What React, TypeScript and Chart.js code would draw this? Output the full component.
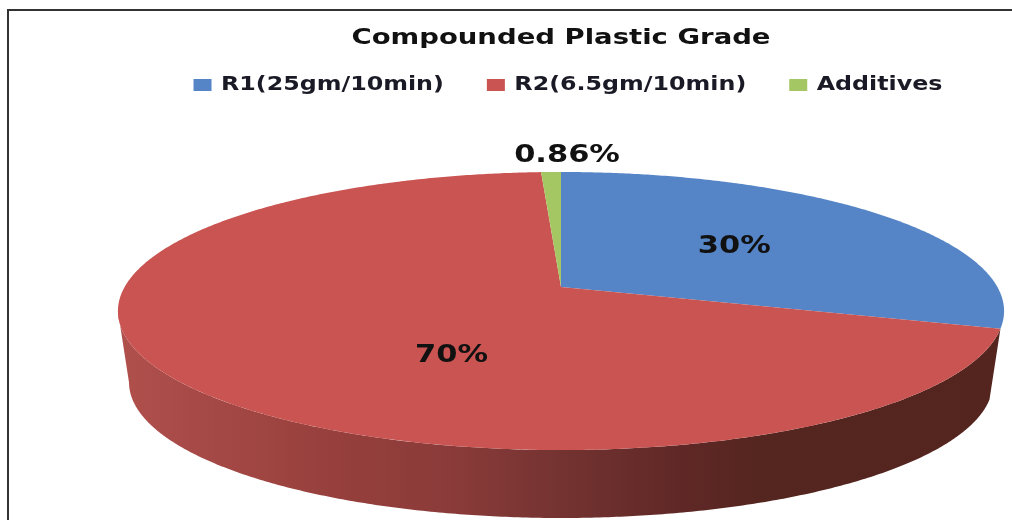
import React, { useEffect, useRef } from "react";
import { Chart, registerables } from "chart.js";

Chart.register(...registerables);

const titleText = "Compounded Plastic Grade";
const categories = ["R1(25gm/10min)", "R2(6.5gm/10min)", "Additives"];
const shares = [30, 70, 0.86];
const shareLabels = ["30%", "70%", "0.86%"];
const sliceColors = ["#5585c6", "#c95452", "#a5c763"];

// Perspective of the disc: apex position, half-axes and foreshortening factor.
const disc = { apexX: 561, apexY: 287, a: 436.4, b: 134.9, k: -0.1727 };
// The lower rim is the same disc, slightly shrunk and pushed down.
const rim = { shrink: 0.975, drop: 72 };
const rimStops: [number, string][] = [
  [0, "#b0504d"],
  [0.25, "#963f3c"],
  [0.38, "#8a3b39"],
  [0.5, "#743331"],
  [0.64, "#5f2826"],
  [0.73, "#55251f"],
  [1, "#54241f"],
];
// All text is set wide, as in a horizontally stretched figure.
const textStretch = 1.25;
const labelFont = 'bold 24.4px "DejaVu Sans"';
// Label nudges relative to the slice's projected mid-point.
const labelSpots = [
  { r: 0.56, dx: -5, dy: 0 },
  { r: 0.3, dx: 6, dy: 41 },
  { r: 1.0, dx: 16, dy: -16 },
];

// Chart.js arc angles start at -PI/2 for the top of the pie.
function project(angle: number, scale = 1, drop = 0): [number, number] {
  const u = Math.cos(angle);
  const v = Math.sin(angle);
  const den = 1 + disc.k * v;
  return [
    disc.apexX + (scale * disc.a * u) / den,
    disc.apexY + drop + (scale * disc.b * v) / den,
  ];
}

function traceArc(ctx: CanvasRenderingContext2D, from: number, to: number, scale = 1, drop = 0) {
  const steps = Math.max(4, Math.ceil(Math.abs(to - from) * 120));
  for (let i = 0; i <= steps; i++) {
    const [x, y] = project(from + ((to - from) * i) / steps, scale, drop);
    ctx.lineTo(x, y);
  }
}

// Widens every string the chart draws and measures on this context.
function stretchText(ctx: CanvasRenderingContext2D) {
  const fill = ctx.fillText.bind(ctx);
  const measure = ctx.measureText.bind(ctx);
  ctx.fillText = (text: string, x: number, y: number) => {
    ctx.save();
    ctx.translate(x, y);
    ctx.scale(textStretch, 1);
    fill(text, 0, 0);
    ctx.restore();
  };
  ctx.measureText = (text: string) =>
    ({ width: measure(text).width * textStretch } as TextMetrics);
}

const framePlugin = {
  id: "frame",
  afterLayout(chart: any) {
    // The legend row sits a little right of the title.
    const legend = chart.legend;
    legend.left += 7;
    legend.right += 7;
  },
  beforeDraw(chart: any) {
    const { ctx, width, height } = chart;
    ctx.save();
    ctx.fillStyle = "#ffffff";
    ctx.fillRect(0, 0, width, height);
    ctx.strokeStyle = "#333333";
    ctx.lineWidth = 2;
    ctx.beginPath();
    ctx.moveTo(8, height);
    ctx.lineTo(8, 10);
    ctx.lineTo(width, 10);
    ctx.stroke();
    ctx.restore();
  },
};

const tiltedPiePlugin = {
  id: "tiltedPie",
  beforeDatasetsDraw(chart: any) {
    const { ctx } = chart;
    const arcs = chart.getDatasetMeta(0).data;
    ctx.save();

    // Side wall under the large slice, from its start round to the left tangent.
    const wallFrom = arcs[1].startAngle;
    const wallTo = Math.PI + Math.asin(disc.k);
    const wall = ctx.createLinearGradient(project(wallTo)[0], 0, project(wallFrom)[0], 0);
    rimStops.forEach(([at, color]) => wall.addColorStop(at, color));
    ctx.beginPath();
    traceArc(ctx, wallFrom, wallTo);
    traceArc(ctx, wallTo, wallFrom, rim.shrink, rim.drop);
    ctx.closePath();
    ctx.fillStyle = wall;
    ctx.fill();

    // Top face of every slice.
    arcs.forEach((arc: any, i: number) => {
      ctx.beginPath();
      ctx.moveTo(disc.apexX, disc.apexY);
      traceArc(ctx, arc.startAngle, arc.endAngle);
      ctx.closePath();
      ctx.fillStyle = sliceColors[i];
      ctx.fill();
    });

    // Value labels.
    ctx.font = labelFont;
    ctx.fillStyle = "#111111";
    ctx.textAlign = "center";
    ctx.textBaseline = "middle";
    arcs.forEach((arc: any, i: number) => {
      const spot = labelSpots[i];
      const [mx, my] = project((arc.startAngle + arc.endAngle) / 2);
      const x = disc.apexX + (mx - disc.apexX) * spot.r + spot.dx;
      const y = disc.apexY + (my - disc.apexY) * spot.r + spot.dy;
      ctx.fillText(shareLabels[i], x, y);
    });

    ctx.restore();
    return false;
  },
};

export default function App() {
  const ref = useRef<HTMLCanvasElement>(null);

  useEffect(() => {
    document.body.style.margin = "0";
    const canvas = ref.current as HTMLCanvasElement;
    stretchText(canvas.getContext("2d") as CanvasRenderingContext2D);
    const chart = new Chart(canvas, {
      type: "pie",
      data: {
        labels: categories,
        datasets: [{ data: shares, backgroundColor: sliceColors, borderWidth: 0 }],
      },
      options: {
        responsive: false,
        animation: false,
        rotation: 0,
        layout: { padding: { left: 110, top: 25 } },
        plugins: {
          title: {
            display: true,
            text: titleText,
            color: "#111111",
            font: { family: '"DejaVu Sans"', size: 22, weight: "bold" },
            padding: { top: 0, bottom: -18.9 },
          },
          legend: {
            position: "top",
            labels: {
              boxWidth: 18,
              boxHeight: 12,
              padding: 43,
              color: "#1a1a26",
              font: { family: '"DejaVu Sans"', size: 19, weight: "bold" },
            },
          },
          tooltip: { enabled: false },
        },
      },
      plugins: [framePlugin, tiltedPiePlugin],
    } as any);
    return () => chart.destroy();
  }, []);

  return (
    <div style={{ width: 1012, height: 520 }}>
      <canvas ref={ref} width={1012} height={520} style={{ display: "block" }} />
    </div>
  );
}
